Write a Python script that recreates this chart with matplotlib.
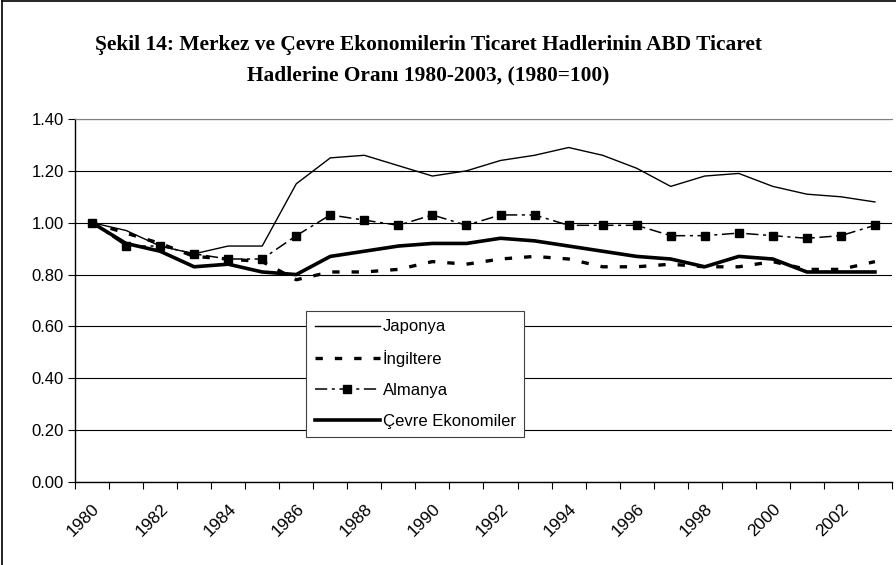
import matplotlib
matplotlib.use("Agg")
import matplotlib.pyplot as plt
from matplotlib.lines import Line2D

# === data ===
years = list(range(1980, 2004))

japonya = [1.00, 0.97, 0.91, 0.88, 0.91, 0.91, 1.15, 1.25, 1.26, 1.22, 1.18, 1.20,
           1.24, 1.26, 1.29, 1.26, 1.21, 1.14, 1.18, 1.19, 1.14, 1.11, 1.10, 1.08]
ingiltere = [1.00, 0.96, 0.92, 0.87, 0.86, 0.85, 0.78, 0.81, 0.81, 0.82, 0.85, 0.84,
             0.86, 0.87, 0.86, 0.83, 0.83, 0.84, 0.83, 0.83, 0.85, 0.82, 0.82, 0.85]
almanya = [1.00, 0.91, 0.91, 0.88, 0.86, 0.86, 0.95, 1.03, 1.01, 0.99, 1.03, 0.99,
           1.03, 1.03, 0.99, 0.99, 0.99, 0.95, 0.95, 0.96, 0.95, 0.94, 0.95, 0.99]
cevre = [1.00, 0.92, 0.89, 0.83, 0.84, 0.81, 0.80, 0.87, 0.89, 0.91, 0.92, 0.92,
         0.94, 0.93, 0.91, 0.89, 0.87, 0.86, 0.83, 0.87, 0.86, 0.81, 0.81, 0.81]

series_names = ["Japonya", "İngiltere", "Almanya", "Çevre Ekonomiler"]
yticks = [0.0, 0.2, 0.4, 0.6, 0.8, 1.0, 1.2, 1.4]

title = ("Şekil 14: Merkez ve Çevre Ekonomilerin Ticaret Hadlerinin ABD Ticaret\n"
         "Hadlerine Oranı 1980-2003, (1980=100)")

plt.rcParams['font.family'] = ['Liberation Sans', 'DejaVu Sans']

fig = plt.figure(figsize=(8.96, 5.65), dpi=100)
ax = fig.add_axes([0.0837, 0.1469, 0.9118, 0.6425])

x = list(range(len(years)))
ax.plot(x, japonya, color='black', lw=1.0, label=series_names[0])
ax.plot(x, ingiltere, color='black', lw=2.4, dashes=(2.2, 3.6), label=series_names[1])
ax.plot(x, almanya, color='black', lw=1.1, dashes=(8, 3, 2, 3), marker='s',
        markersize=6, label=series_names[2])
ax.plot(x, cevre, color='black', lw=2.6, label=series_names[3])

ax.set_xlim(-0.5, len(years) - 0.5)
ax.set_ylim(0, 1.4)
ax.set_yticks(yticks)
ax.set_yticklabels([f"{v:.2f}" for v in yticks], fontsize=12)
ax.yaxis.grid(True, color='black', lw=0.8)
ax.set_axisbelow(True)

# category boundaries as ticks, labels every second year at centres
ax.set_xticks([i - 0.5 for i in range(len(years) + 1)])
ax.set_xticklabels([])
ax.set_xticks(x[::2], minor=True)
ax.set_xticklabels([str(y) for y in years[::2]], minor=True, rotation=45,
                   ha='right', rotation_mode='anchor', fontsize=12.5)
ax.tick_params(axis='x', which='minor', length=0, pad=14)
ax.tick_params(axis='x', which='major', length=5, width=0.8, direction='out')
ax.tick_params(axis='y', length=5, width=0.8, direction='out', pad=3)

for side in ['left', 'bottom']:
    ax.spines[side].set_color('black')
    ax.spines[side].set_linewidth(1.0)
ax.spines['top'].set_color('#808080')
ax.spines['right'].set_visible(False)

leg = ax.legend(loc='upper left', bbox_to_anchor=(0.283, 0.471), borderaxespad=0,
                fontsize=12, handlelength=3.9, handletextpad=0.2, labelspacing=0.95,
                fancybox=False, framealpha=1, edgecolor='#404040', borderpad=0.5)
leg.get_frame().set_linewidth(0.8)

fig.text(0.478, 0.938, title, ha='center', va='top', fontsize=15.4,
         fontweight='bold', family='Liberation Serif', linespacing=1.7)

# outer chart border (only left and top are visible in the crop)
fig.add_artist(Line2D([0.002, 0.002], [0, 0.998], color='black', lw=1.2,
                      transform=fig.transFigure))
fig.add_artist(Line2D([0.002, 1], [0.998, 0.998], color='black', lw=1.2,
                      transform=fig.transFigure))

fig.savefig('out.png', dpi=100)
